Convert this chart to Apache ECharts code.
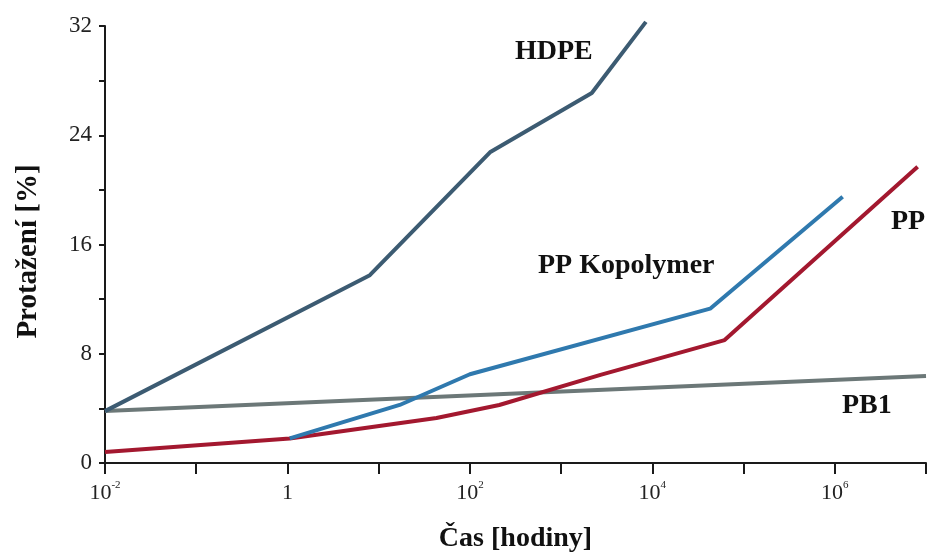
<!DOCTYPE html>
<html>
<head>
<meta charset="utf-8">
<script src="https://cdn.jsdelivr.net/npm/echarts@6/dist/echarts.min.js"></script>
<style>
  html, body { margin: 0; padding: 0; background: #ffffff; }
  #chart { width: 928px; height: 552px; }
</style>
</head>
<body>
<div id="chart"></div>
<script>
// Creep elongation of pipe materials over time (hours, log scale)
const hdpeHours = [0.01, 8.0, 166, 2170, 8500];
const hdpeValues = [3.8, 13.75, 22.75, 27.1, 32.3];

const ppKopHours = [1.06, 17, 100, 43000, 1.22e6];
const ppKopValues = [1.8, 4.25, 6.5, 11.3, 19.5];

const ppHours = [0.01, 1.06, 43, 210, 2700, 62000, 8.1e6];
const ppValues = [0.8, 1.8, 3.3, 4.25, 6.45, 9.0, 21.7];

const pb1Hours = [0.01, 1e7];
const pb1Values = [3.8, 6.37];

const yTicks = [0, 8, 16, 24, 32];

const serif = '"Liberation Serif", "DejaVu Serif", serif';

function pairs(xs, ys) {
  return xs.map((x, i) => [x, ys[i]]);
}

const chart = echarts.init(document.getElementById('chart'), null, { renderer: 'canvas' });

const lineBase = {
  type: 'line',
  showSymbol: false,
  symbol: 'none',
  clip: false,
  silent: true
};

chart.setOption({
  backgroundColor: '#ffffff',
  animation: false,
  grid: { left: 105, right: 2, top: 26, bottom: 89, containLabel: false, outerBoundsMode: 'none' },
  xAxis: {
    type: 'log',
    logBase: 10,
    min: 0.01,
    max: 1e7,
    splitNumber: 9,
    name: 'Čas [hodiny]',
    nameLocation: 'middle',
    nameGap: 62,
    nameTextStyle: { fontFamily: serif, fontWeight: 'bold', fontSize: 28, color: '#111' },
    axisLine: { show: true, lineStyle: { color: '#1a1a1a', width: 2 } },
    axisTick: { show: true, inside: false, length: 11, lineStyle: { color: '#1a1a1a', width: 2 } },
    splitLine: { show: false },
    minorTick: { show: false },
    axisLabel: {
      show: true,
      margin: 17,
      showMinLabel: true,
      showMaxLabel: true,
      formatter: function (v) {
        const e = Math.round(Math.log10(v));
        if (e % 2 !== 0) return '';
        if (e === 0) return '{b|1}';
        return '{b|10}{s|' + e + '}';
      },
      rich: {
        b: { fontFamily: serif, fontSize: 22, color: '#222', verticalAlign: 'bottom', lineHeight: 24 },
        s: { fontFamily: serif, fontSize: 11, color: '#222', verticalAlign: 'top', lineHeight: 24, padding: [0, 0, 12, 0] }
      }
    }
  },
  yAxis: {
    type: 'value',
    min: 0,
    max: 32,
    interval: 4,
    name: 'Protažení [%]',
    nameLocation: 'middle',
    nameGap: 62,
    nameRotate: 90,
    nameTextStyle: { fontFamily: serif, fontWeight: 'bold', fontSize: 29, color: '#111', padding: [0, 14, 0, 0] },
    axisLine: { show: true, lineStyle: { color: '#1a1a1a', width: 2 } },
    axisTick: { show: true, inside: false, length: 6, lineStyle: { color: '#1a1a1a', width: 2 } },
    splitLine: { show: false },
    axisLabel: {
      margin: 13,
      fontFamily: serif,
      fontSize: 23,
      color: '#222',
      formatter: function (v) {
        return yTicks.indexOf(v) >= 0 ? String(v) : '';
      }
    }
  },
  series: [
    Object.assign({}, lineBase, {
      name: 'PB1',
      data: pairs(pb1Hours, pb1Values),
      lineStyle: { color: '#6c7878', width: 4 },
      z: 2
    }),
    Object.assign({}, lineBase, {
      name: 'PP',
      data: pairs(ppHours, ppValues),
      lineStyle: { color: '#a3182f', width: 4 },
      z: 3
    }),
    Object.assign({}, lineBase, {
      name: 'PP Kopolymer',
      data: pairs(ppKopHours, ppKopValues),
      lineStyle: { color: '#2f79ae', width: 4 },
      z: 4
    }),
    Object.assign({}, lineBase, {
      name: 'HDPE',
      data: pairs(hdpeHours, hdpeValues),
      lineStyle: { color: '#3c5b72', width: 4 },
      z: 5
    })
  ],
  graphic: [
    { type: 'text', left: 515, top: 38, style: { text: 'HDPE', font: 'bold 28px ' + serif, fill: '#111' } },
    { type: 'text', left: 538, top: 252, style: { text: 'PP Kopolymer', font: 'bold 28px ' + serif, fill: '#111' } },
    { type: 'text', left: 891, top: 208, style: { text: 'PP', font: 'bold 28px ' + serif, fill: '#111' } },
    { type: 'text', left: 842, top: 392, style: { text: 'PB1', font: 'bold 28px ' + serif, fill: '#111' } }
  ]
});
</script>
</body>
</html>
